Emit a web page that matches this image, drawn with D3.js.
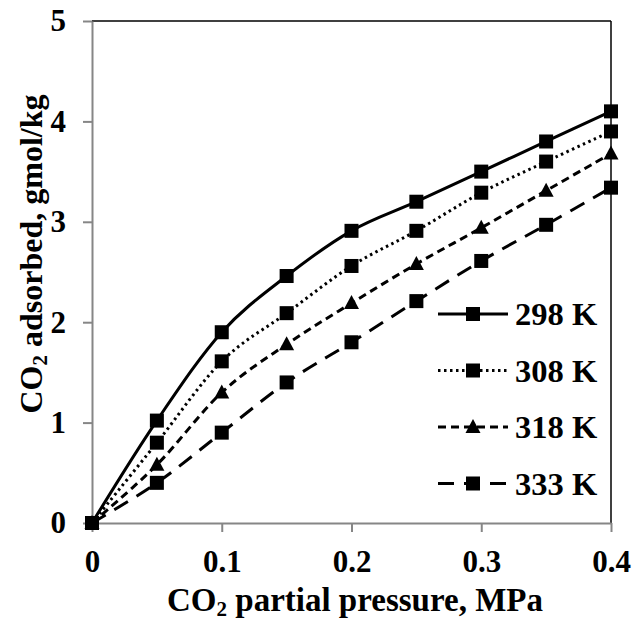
<!DOCTYPE html>
<html>
<head>
<meta charset="utf-8">
<script src="https://cdn.jsdelivr.net/npm/d3@7"></script>
<style>
  html, body { margin: 0; padding: 0; background: #fff; }
  svg text { font-family: "Liberation Serif", "Times New Roman", serif; font-weight: bold; fill: #000; }
</style>
</head>
<body>
<script>
// ---- data ----
const pressure = [0, 0.05, 0.10, 0.15, 0.20, 0.25, 0.30, 0.35, 0.40];
const k298 = [0, 1.02, 1.90, 2.46, 2.91, 3.20, 3.50, 3.80, 4.10];
const k308 = [0, 0.80, 1.61, 2.09, 2.56, 2.91, 3.29, 3.60, 3.90];
const k318 = [0, 0.58, 1.30, 1.78, 2.19, 2.58, 2.94, 3.31, 3.68];
const k333 = [0, 0.40, 0.90, 1.40, 1.80, 2.21, 2.61, 2.97, 3.34];
const seriesNames = ["298 K", "308 K", "318 K", "333 K"];
const xTicks = [0, 0.1, 0.2, 0.3, 0.4];
const yTicks = [0, 1, 2, 3, 4, 5];

const W = 641, H = 624;
const svg = d3.select("body").append("svg").attr("width", W).attr("height", H);

const x = d3.scaleLinear().domain([0, 0.4]).range([92, 611]);
const y = d3.scaleLinear().domain([0, 5]).range([523, 21]);

const styles = [
  { dash: null, marker: "square" },
  { dash: "2.5,3.5", marker: "square" },
  { dash: "8,5", marker: "triangle" },
  { dash: "16,10", marker: "square" }
];
const allSeries = [k298, k308, k318, k333];

// plot border top & right (black)
svg.append("line").attr("x1", x(0)).attr("x2", x(0.4)).attr("y1", y(5)).attr("y2", y(5))
  .attr("stroke", "#000").attr("stroke-width", 1.5);
svg.append("line").attr("x1", x(0.4)).attr("x2", x(0.4)).attr("y1", y(5)).attr("y2", y(0))
  .attr("stroke", "#000").attr("stroke-width", 1.5);

// axes
const gx = svg.append("g").attr("transform", `translate(0,${y(0)})`)
  .call(d3.axisBottom(x).tickValues(xTicks).tickFormat(d => d === 0 ? "0" : d3.format(".1f")(d))
    .tickSize(9).tickSizeOuter(0).tickPadding(18));
const gy = svg.append("g").attr("transform", `translate(${x(0)},0)`)
  .call(d3.axisLeft(y).tickValues(yTicks).tickFormat(d3.format("d"))
    .tickSize(9).tickSizeOuter(0).tickPadding(17));
[gx, gy].forEach(g => {
  g.select(".domain").attr("stroke", "#868686").attr("stroke-width", 2);
  g.selectAll(".tick line").attr("stroke", "#868686").attr("stroke-width", 2);
  g.selectAll(".tick text").style("font-size", "31px").attr("fill", "#000");
});

// lines
const line = d3.line().x((d, i) => x(pressure[i])).y(d => y(d)).curve(d3.curveCardinal.tension(0));
allSeries.forEach((s, k) => {
  svg.append("path").datum(s).attr("d", line).attr("fill", "none")
    .attr("stroke", "#000").attr("stroke-width", 3)
    .attr("stroke-dasharray", styles[k].dash);
});

function marker(g, type, cx, cy) {
  if (type === "square") {
    g.append("rect").attr("x", cx - 7).attr("y", cy - 7).attr("width", 14).attr("height", 14).attr("fill", "#000");
  } else {
    g.append("path").attr("d", `M${cx},${cy - 8}L${cx + 7.5},${cy + 6}L${cx - 7.5},${cy + 6}Z`).attr("fill", "#000");
  }
}
allSeries.forEach((s, k) => {
  const g = svg.append("g");
  s.forEach((v, i) => marker(g, styles[k].marker, x(pressure[i]), y(v)));
});

// legend
const legendY = [314, 370.5, 427, 483.5];
seriesNames.forEach((name, k) => {
  const g = svg.append("g");
  const ly = legendY[k];
  g.append("line").attr("x1", 438).attr("x2", 508).attr("y1", ly).attr("y2", ly)
    .attr("stroke", "#000").attr("stroke-width", 3).attr("stroke-dasharray", styles[k].dash);
  marker(g, styles[k].marker, 473, ly);
  g.append("text").attr("x", 515).attr("y", ly + 11).style("font-size", "32.5px").text(name);
});

// axis titles
const xt = svg.append("text").attr("x", 355).attr("y", 611).attr("text-anchor", "middle").style("font-size", "33px");
xt.append("tspan").text("CO");
xt.append("tspan").attr("dy", 5).style("font-size", "21px").text("2");
xt.append("tspan").attr("dy", -5).text(" partial pressure, MPa");

const yt = svg.append("text").attr("transform", "translate(42,254) rotate(-90)").attr("text-anchor", "middle").style("font-size", "32px");
yt.append("tspan").text("CO");
yt.append("tspan").attr("dy", 5).style("font-size", "21px").text("2");
yt.append("tspan").attr("dy", -5).text(" adsorbed, gmol/kg");
</script>
</body>
</html>
